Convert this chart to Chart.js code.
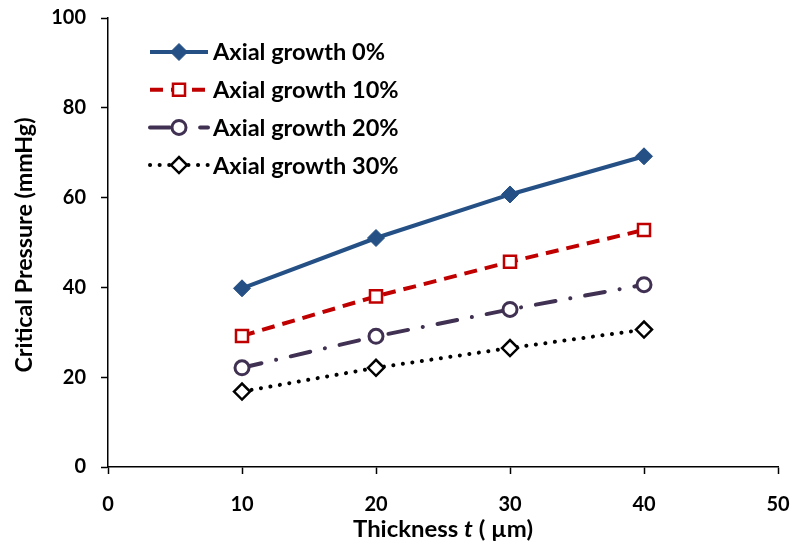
<!DOCTYPE html>
<html>
<head>
<meta charset="utf-8">
<script src="https://cdn.jsdelivr.net/npm/chart.js@4"></script>
<style>
  html, body { margin: 0; padding: 0; background: #fff; }
  #wrap { width: 795px; height: 549px; }
</style>
</head>
<body>
<div id="wrap"><canvas id="chart" width="795" height="549"></canvas></div>
<script>
// thickness values (µm) on the x axis
const thickness = [10, 20, 30, 40];

// critical pressure (mmHg) for each axial growth level
const growth0 = [39.8, 51.0, 60.7, 69.2];
const growth10 = [29.2, 38.0, 45.7, 52.8];
const growth20 = [22.1, 29.1, 35.1, 40.6];
const growth30 = [16.8, 22.1, 26.5, 30.6];

const seriesNames = ['Axial growth 0%', 'Axial growth 10%', 'Axial growth 20%', 'Axial growth 30%'];

const FONT = 'Lato, sans-serif';

function toPoints(values) {
    return thickness.map((t, i) => ({ x: t, y: values[i] }));
}

// legend drawn inside the plot area, top left
const insideLegend = {
    id: 'insideLegend',
    afterDraw(chart) {
        const ctx = chart.ctx;
        ctx.save();
        ctx.font = 'bold 23px ' + FONT;
        // fit the first label to the width measured on the original
        const squeeze = 172 / ctx.measureText(seriesNames[0]).width;
        ctx.restore();

        chart.data.datasets.forEach((ds, i) => {
            const y = 52 + i * 37.7;
            ctx.save();
            ctx.strokeStyle = ds.borderColor;
            ctx.lineWidth = ds.borderWidth;
            ctx.lineCap = ds.borderCapStyle || 'butt';
            ctx.setLineDash(ds.borderDash || []);
            ctx.beginPath();
            ctx.moveTo(150, y);
            ctx.lineTo(208, y);
            ctx.stroke();
            ctx.restore();

            ctx.save();
            ctx.setLineDash([]);
            ctx.fillStyle = ds.pointBackgroundColor;
            ctx.strokeStyle = ds.pointBorderColor;
            ctx.lineWidth = ds.pointBorderWidth;
            Chart.helpers.drawPoint(ctx, {
                pointStyle: ds.pointStyle,
                radius: ds.pointRadius,
                rotation: 0,
                borderWidth: ds.pointBorderWidth
            }, 179, y);
            ctx.restore();

            ctx.save();
            ctx.fillStyle = '#000';
            ctx.font = 'bold 23px ' + FONT;
            ctx.textBaseline = 'middle';
            ctx.translate(213, y + 1);
            ctx.scale(squeeze, 1);
            ctx.fillText(seriesNames[i], 0, 0);
            ctx.restore();
        });
    }
};

// axis titles (x title has an italic t)
const axisTitles = {
    id: 'axisTitles',
    afterDraw(chart) {
        const ctx = chart.ctx;
        ctx.save();
        ctx.fillStyle = '#000';
        ctx.textBaseline = 'middle';

        const parts = [
            { text: 'Thickness ', font: 'bold 23px ' + FONT },
            { text: 't', font: 'italic bold 23px ' + FONT },
            { text: ' ( µm)', font: 'bold 23px ' + FONT }
        ];
        let total = 0;
        parts.forEach(p => { ctx.font = p.font; p.w = ctx.measureText(p.text).width; total += p.w; });
        const sx = 180 / total;
        ctx.save();
        ctx.translate(443 - 90, 530);
        ctx.scale(sx, 1);
        let x = 0;
        parts.forEach(p => {
            ctx.font = p.font;
            ctx.fillText(p.text, x, 0);
            x += p.w;
        });
        ctx.restore();

        ctx.translate(25, 245);
        ctx.rotate(-Math.PI / 2);
        ctx.font = 'bold 23px ' + FONT;
        const sy = 255 / ctx.measureText('Critical Pressure (mmHg)').width;
        ctx.scale(sy, 1);
        ctx.textAlign = 'center';
        ctx.fillText('Critical Pressure (mmHg)', 0, 0);
        ctx.restore();
    }
};

const axisStyle = {
    border: { display: true, color: '#000', width: 1.5 },
    grid: { display: true, drawOnChartArea: false, drawTicks: true, tickLength: 7, color: '#000', tickWidth: 1.5 },
    ticks: { color: '#000', font: { family: FONT, size: 20, weight: 'bold' } }
};

new Chart(document.getElementById('chart').getContext('2d'), {
    type: 'line',
    data: {
        datasets: [
            {
                label: seriesNames[0],
                data: toPoints(growth0),
                borderColor: '#245086',
                borderWidth: 4,
                pointStyle: 'rectRot',
                pointRadius: 8.5,
                pointBackgroundColor: '#245086',
                pointBorderColor: '#245086',
                pointBorderWidth: 1
            },
            {
                label: seriesNames[1],
                data: toPoints(growth10),
                borderColor: '#C00000',
                borderWidth: 4,
                borderDash: [13, 8],
                pointStyle: 'rect',
                pointRadius: 8.5,
                pointBackgroundColor: '#fff',
                pointBorderColor: '#C00000',
                pointBorderWidth: 2.5
            },
            {
                label: seriesNames[2],
                data: toPoints(growth20),
                borderColor: '#403152',
                borderWidth: 4,
                borderCapStyle: 'round',
                borderDash: [20, 15, 0.1, 15],
                pointStyle: 'circle',
                pointRadius: 7,
                pointBackgroundColor: '#fff',
                pointBorderColor: '#403152',
                pointBorderWidth: 3
            },
            {
                label: seriesNames[3],
                data: toPoints(growth30),
                borderColor: '#000',
                borderWidth: 4,
                borderCapStyle: 'round',
                borderDash: [0.1, 9.5],
                pointStyle: 'rectRot',
                pointRadius: 8,
                pointBackgroundColor: '#fff',
                pointBorderColor: '#000',
                pointBorderWidth: 2.5
            }
        ]
    },
    options: {
        responsive: false,
        animation: false,
        layout: { padding: { left: 0, top: 18, right: 17, bottom: 0 } },
        plugins: {
            legend: { display: false },
            tooltip: { enabled: false }
        },
        scales: {
            x: {
                type: 'linear',
                min: 0,
                max: 50,
                ...axisStyle,
                ticks: { ...axisStyle.ticks, stepSize: 10, padding: 19 },
                afterFit(scale) {
                    scale.height = 82;
                    scale.paddingLeft = 0;
                    scale.paddingRight = 0;
                }
            },
            y: {
                min: 0,
                max: 100,
                ...axisStyle,
                ticks: { ...axisStyle.ticks, stepSize: 20, padding: 15 },
                afterFit(scale) {
                    scale.width = 108;
                    scale.paddingTop = 0;
                    scale.paddingBottom = 0;
                }
            }
        }
    },
    plugins: [insideLegend, axisTitles]
});
</script>
</body>
</html>
